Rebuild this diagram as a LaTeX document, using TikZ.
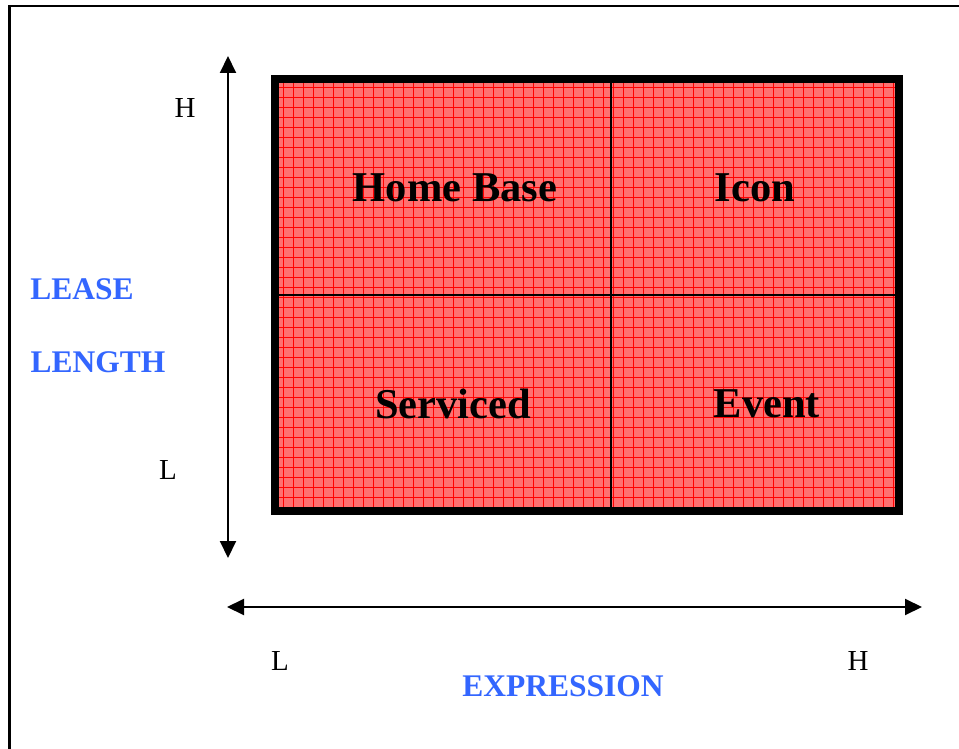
\documentclass[tikz,border=0pt]{standalone}
\usepackage{fontspec}
\setmainfont{Liberation Serif}
\usetikzlibrary{arrows.meta}
\definecolor{axisblue}{RGB}{51,102,255}
\definecolor{cellred}{RGB}{255,112,112}
\tikzset{
  cell/.style={font=\bfseries\fontsize{42.5}{42.5}\selectfont},
  axisname/.style={font=\bfseries\fontsize{31.5}{31.5}\selectfont,text=axisblue},
  level/.style={font=\fontsize{29}{29}\selectfont},
  axis/.style={line width=2pt,{Triangle[length=17pt,width=16pt]}-{Triangle[length=17pt,width=16pt]}}
}
\begin{document}
\begin{tikzpicture}[x=1pt,y=-1pt]
\useasboundingbox (0,0) rectangle (959,749);
\fill[white](0,0) rectangle (959,749);
\draw[line width=2.5pt] (9.5,749) -- (9.5,6) -- (959,6);
% the four cells
\fill[cellred] (275,79) rectangle (899,511);
\foreach \gx in {283,293,...,893} \draw[red,line width=0.9pt] (\gx,83) -- (\gx,507);
\foreach \gy in {87,97,...,507} \draw[red,line width=0.9pt] (279,\gy) -- (895,\gy);
\draw[line width=1.5pt] (611,79) -- (611,511);
\draw[line width=1.5pt] (275,295) -- (899,295);
\draw[line width=8pt] (275,79) rectangle (899,511);
\node[cell] (home) at (455,188) {Home Base};
\node[cell] (icon) at (755,188) {Icon};
\node[cell] (serviced) at (453,404) {Serviced};
\node[cell] (event) at (767,404) {Event};
% axes
\coordinate (vtop) at (228,56);
\coordinate (vbot) at (228,558);
\coordinate (hleft) at (227,607);
\coordinate (hright) at (922,607);
\draw[axis] (vbot) -- (vtop);
\draw[axis] (hleft) -- (hright);
\node[level] (vhigh) at (185,108) {H};
\node[level] (vlow) at (168,470) {L};
\node[level] (hlow) at (280,661) {L};
\node[level] (hhigh) at (858,661) {H};
\node[axisname] (lease) at (82,289) {LEASE};
\node[axisname] (length) at (98,362) {LENGTH};
\node[axisname] (expression) at (563,686) {EXPRESSION};
\end{tikzpicture}
\end{document}
